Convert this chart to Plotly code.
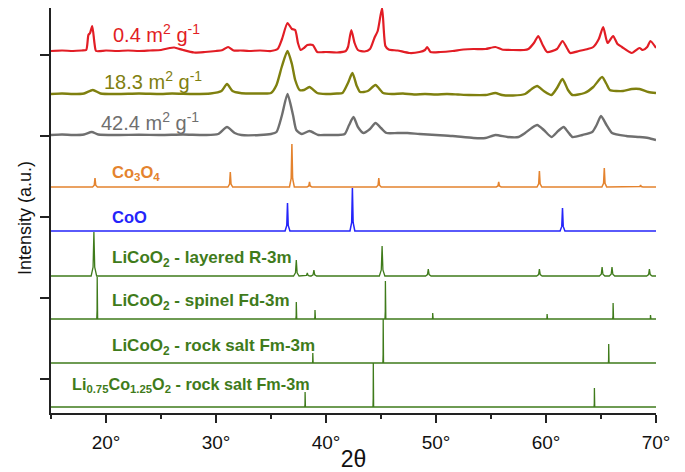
import plotly.graph_objects as go

# ---------------- data ----------------
# Experimental patterns: 2theta (deg) and intensity above own baseline (a.u.)
red_x = [15.0, 16.0, 17.0, 17.8, 18.2, 18.4, 18.55, 18.75, 18.95, 19.1, 20, 21, 22, 23, 24, 25, 25.8, 26.2, 27, 28, 29, 30,
         30.6, 31.1, 31.6, 32.2, 33, 34, 35, 35.6, 36.0, 36.5, 36.9, 37.2, 37.45, 37.7, 38.0, 38.3, 38.8, 39.2, 40, 41,
         41.8, 42.0, 42.3, 42.6, 42.9, 43.5, 44.0, 44.4, 44.7, 45.1, 45.4, 45.7, 46.5, 47.6, 48.5, 49.0, 49.2, 49.5,
         50.4, 51.5, 52.5, 53.4, 54.5, 55.4, 56, 57, 58.0, 58.4, 58.9, 59.3, 59.7, 60.1, 61.0, 61.5, 61.9, 62.2, 63.0,
         63.8, 64.3, 64.8, 65.2, 65.6, 66.1, 66.5, 66.9, 67.8, 68.5, 68.8, 69.2, 69.5, 70.0]
red_y = [0, 0.5, 0, 0.5, 1, 16, 18, 25, 8, 0, 0.5, 0, 0.5, 0, 0.5, 1, 3, 3.5, 1, -1.5, -1, 0,
         1, 4, 0.5, 0.5, 0, 0.5, 0, 2, 12, 28, 22, 21, 8, 1, 3, 6, 6, -1, -1, -1.5,
         0, 4, 21, 8, 1, -0.5, 2, 13, 20, 43, 5, 1.5, 0.5, -2, -1, 1, 4, -1,
         -1, 0, 1.5, 2, 2, 4, 1.5, 1, 1, 2, 8, 15, 6, -1, 2, 10, 3, -2, 0,
         2, 4, 12, 24, 8, 15, 7, 4, -2, 3, 1, 4, 10, 3]

olive_x = [15, 16, 17, 18, 18.8, 19.5, 21, 23, 25, 26, 28, 29.5, 30.5, 31.0, 31.5, 32.2, 33, 34, 35, 35.5, 36.0, 36.5,
           36.9, 37.2, 37.6, 38.0, 38.5, 39.2, 40, 41, 41.5, 42.0, 42.4, 42.8, 43.1, 43.8, 44.5, 45.2, 46, 47, 48, 49,
           50, 51, 52, 53, 54.5, 55.4, 56, 57, 58.1, 58.7, 59.2, 59.8, 60.5, 61.0, 61.5, 62.0, 62.4, 63.5, 64.3, 65.1,
           65.5, 65.8, 67, 67.8, 68.5, 69.3, 70]
olive_y = [0, 0.5, 0, 0.5, 4, 0.5, 0, 0.5, 0, 0.5, 0, 0.5, 3, 10, 3, 1, 0.5, 0.5, 1, 9, 28, 43,
           30, 14, 4, 4, 7, 1, 0, 0.5, 1, 11, 21, 8, 2, 3, 9, 1, 0, 0.5, -0.5, 0,
           -0.5, 0, -0.5, -1, -1, 1, -1, -1.5, 0, 5, 8, 3, -1, 6, 15, 4, -1, 1, 7, 17,
           10, 4, 3, 5, 5, 2, 1]

gray_x = [15, 16, 17, 18, 18.7, 19.3, 21, 23, 25, 27, 29, 30.2, 31.0, 31.7, 32.3, 34, 35.0, 35.5, 36.0, 36.5, 37.0,
          37.3, 37.8, 38.5, 39.3, 40, 41.0, 41.7, 42.1, 42.5, 42.9, 43.4, 44.0, 44.5, 45.0, 45.5, 46.5, 47.4, 48.5,
          50, 51.5, 53.4, 54.5, 55.4, 56.5, 57.5, 58.1, 58.7, 59.2, 59.8, 60.5, 61.1, 61.6, 62.0, 62.4, 63.3, 64.2,
          64.6, 65.0, 65.5, 66.0, 67.3, 68.5, 69.3, 70]
gray_y = [0, 0.5, 0, 0.5, 3, 0.5, 0, 0.3, 0, 0.5, 0, 1, 8, 2, 0, 0, 1, 3, 20, 41, 20,
          5, 1, 4, 0, 0, 0, 1, 10, 18, 8, 2, 6, 12, 7, 2, 2, 2, 1,
          0, -1, -3, -3, 0, -2, -2, 2, 7, 10, 5, -2, 4, 8, 3, -2, 0, 3,
          10, 19, 10, 2, -1, -2, -3, -5]

# Reference patterns: peak positions (deg) and heights (a.u.)
co3o4_pos = [19.0, 31.3, 36.9, 38.5, 44.8, 55.7, 59.4, 65.3, 68.6]
co3o4_h = [9, 15, 43, 5, 9, 5, 16, 19, 2]
coo_pos = [36.5, 42.4, 61.5]
coo_h = [28, 43, 23]
layered_pos = [18.9, 37.3, 38.3, 38.9, 45.1, 49.3, 59.4, 65.1, 66.0, 69.4]
layered_h = [44, 16, 3, 6, 30, 7, 7, 9, 9, 7]
spinel_pos = [19.2, 37.3, 39.0, 45.4, 49.7, 60.1, 66.1, 69.5]
spinel_h = [42, 17, 9, 38, 6, 5, 16, 4]
rocksalt_pos = [38.8, 45.2, 65.7]
rocksalt_h = [10, 44, 19]
li075_pos = [38.1, 44.3, 64.4]
li075_h = [15, 44, 19]

# vertical offsets of each pattern (a.u.)
offsets = {"red": 362, "olive": 319, "gray": 278, "co3o4": 226, "coo": 182,
           "layered": 137, "spinel": 94, "rocksalt": 50, "li075": 6}

labels = ["0.4 m<sup>2</sup> g<sup>-1</sup>", "18.3 m<sup>2</sup> g<sup>-1</sup>", "42.4 m<sup>2</sup> g<sup>-1</sup>",
          "Co<sub>3</sub>O<sub>4</sub>", "CoO", "LiCoO<sub>2</sub> - layered R-3m",
          "LiCoO<sub>2</sub> - spinel Fd-3m", "LiCoO<sub>2</sub> - rock salt Fm-3m",
          "Li<sub>0.75</sub>Co<sub>1.25</sub>O<sub>2</sub> - rock salt Fm-3m"]
x_ticks = [20, 30, 40, 50, 60, 70]

# ---------------- styling ----------------
RED = "#e21d25"
OLIVE = "#7f800f"
GRAY = "#6f6f6f"
ORANGE = "#e4832e"
BLUE = "#2424fa"
GREEN = "#3f7b1b"
FONT = "Liberation Sans, Arial, sans-serif"


def peak_profile(pos, h, w):
    xs, ys = [15.0], [0.0]
    for p, hh in sorted(zip(pos, h)):
        xs += [p - w, p - w * 0.3, p, p + w * 0.3, p + w]
        ys += [0, hh * 0.2, hh, hh * 0.2, 0]
    xs.append(70.0)
    ys.append(0.0)
    return xs, ys


fig = go.Figure()

def add(xs, ys, off, color, width):
    fig.add_trace(go.Scatter(x=xs, y=[v + off for v in ys], mode="lines",
                             line=dict(color=color, width=width, shape="spline", smoothing=0.6),
                             showlegend=False, hoverinfo="skip"))

def add_lin(xs, ys, off, color, width):
    fig.add_trace(go.Scatter(x=xs, y=[v + off for v in ys], mode="lines",
                             line=dict(color=color, width=width),
                             showlegend=False, hoverinfo="skip"))

add(red_x, red_y, offsets["red"], RED, 2.2)
add(olive_x, olive_y, offsets["olive"], OLIVE, 2.4)
add(gray_x, gray_y, offsets["gray"], GRAY, 2.4)

x, y = peak_profile(co3o4_pos, co3o4_h, 0.22)
add_lin(x, y, offsets["co3o4"], ORANGE, 1.5)
x, y = peak_profile(coo_pos, coo_h, 0.22)
add_lin(x, y, offsets["coo"], BLUE, 1.5)
x, y = peak_profile(layered_pos, layered_h, 0.25)
add_lin(x, y, offsets["layered"], GREEN, 1.3)
x, y = peak_profile(spinel_pos, spinel_h, 0.04)
add_lin(x, y, offsets["spinel"], GREEN, 1.3)
x, y = peak_profile(rocksalt_pos, rocksalt_h, 0.03)
add_lin(x, y, offsets["rocksalt"], GREEN, 1.3)
x, y = peak_profile(li075_pos, li075_h, 0.03)
add_lin(x, y, offsets["li075"], GREEN, 1.3)

# labels: (x deg, y, color, size, bold)
label_pos = [(20.45, 380, RED, 20, False), (19.6, 333, OLIVE, 20, False), (19.35, 292, GRAY, 20, False),
             (20.35, 240, ORANGE, 16.5, True), (20.35, 196, BLUE, 16.5, True), (20.35, 154, GREEN, 17, True),
             (20.35, 111, GREEN, 17, True), (20.35, 66, GREEN, 17, True), (16.75, 28, GREEN, 16.2, True)]
for txt, (lx, ly, c, s, b) in zip(labels, label_pos):
    fig.add_annotation(x=lx, y=ly, xref="x", yref="y", text=f"<b>{txt}</b>" if b else txt,
                       showarrow=False, xanchor="left", yanchor="middle",
                       font=dict(family=FONT, size=s, color=c))

# y-axis title as rotated annotation
fig.add_annotation(x=-26 / 605, y=(413 - 218) / 405, xref="paper", yref="paper",
                   text="Intensity (a.u.)", textangle=-90, showarrow=False,
                   xanchor="center", yanchor="middle",
                   font=dict(family=FONT, size=18, color="#111"))

fig.update_layout(
    width=685, height=472,
    margin=dict(l=51, r=29, t=8, b=59, autoexpand=False),
    plot_bgcolor="white", paper_bgcolor="white",
    font=dict(family=FONT, color="#111"),
    xaxis=dict(range=[15, 70], tickvals=x_ticks, ticktext=[f"{v}°" for v in x_ticks],
               automargin=False,
               showline=True, linecolor="#222", linewidth=1.8, ticks="outside", ticklen=8, tickwidth=1.8,
               tickcolor="#222", showgrid=False, zeroline=False, tickfont=dict(size=19, color="#111"),
               ticklabelstandoff=3,
               minor=dict(dtick=5, tick0=15, ticks="outside", ticklen=4, tickwidth=1.6, tickcolor="#222"),
               title=dict(text="2θ", font=dict(size=23, color="#111"), standoff=3)),
    yaxis=dict(range=[0, 405], tickvals=[34, 115, 196, 277, 358], showticklabels=False,
               automargin=False,
               showline=True, linecolor="#222", linewidth=1.8, ticks="outside", ticklen=9, tickwidth=1.6,
               tickcolor="#222", showgrid=False, zeroline=False),
)

fig.write_html("out.html")
